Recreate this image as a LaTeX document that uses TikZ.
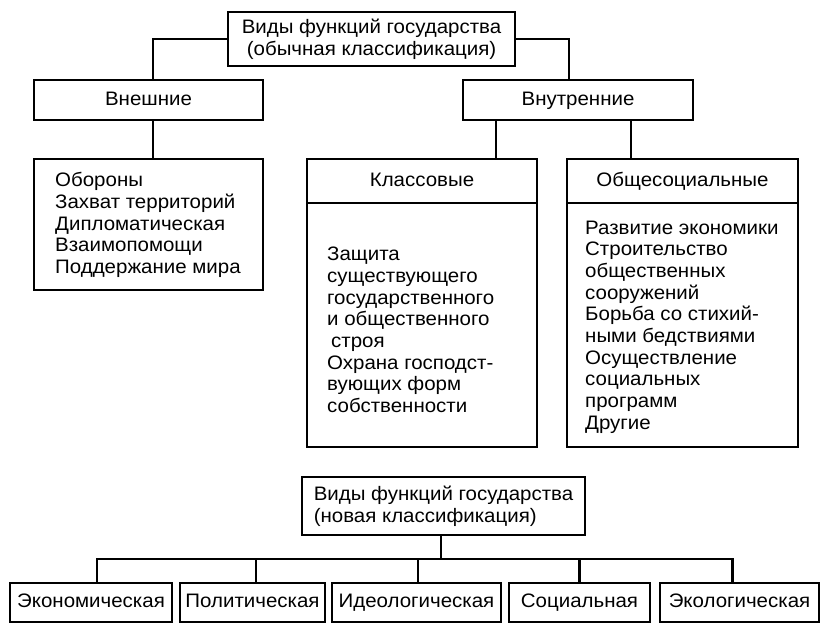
\documentclass[tikz,border=0pt]{standalone}
\usepackage{fontspec}
\setmainfont[FakeStretch=1.05]{Liberation Sans}
\usetikzlibrary{calc}
\def\boxfont{\fontsize{19.5}{21.7}\selectfont}
\tikzset{
	box/.style={draw, line width=2.2pt, inner sep=0pt, font=\boxfont},
	lbl/.style={box, text height=14pt, text depth=4pt},
	txt/.style={anchor=west, align=left, inner sep=0pt, font=\boxfont},
	conn/.style={line width=2.2pt},
}

\begin{document}
\begin{tikzpicture}[x=1pt, y=-1pt]
			\useasboundingbox (0,0) rectangle (830,638);
			%%%%% OLD CLASSIFICATION %%%%%
			\node[box, minimum width=287, minimum height=54, align=center] (oldtop) at (371.5,39) {Виды функций государства\\(обычная классификация)};
			
			\node[lbl, minimum width=229, minimum height=40] (ext) at (148.5,100) {Внешние};
			\node[lbl, minimum width=230, minimum height=40] (int) at (578,100) {Внутренние};
			
			\node[box, minimum width=229, minimum height=131] (extlist) at (148.5,224.5) {};
			\node[txt] (extitems) at (55,225) {Обороны\\Захват территорий\\Дипломатическая\\Взаимопомощи\\Поддержание мира};
			
			\node[lbl, minimum width=230, minimum height=44] (clshead) at (422,181) {Классовые};
			\node[box, minimum width=230, minimum height=244] (clsbody) at (422,325) {};
			\node[txt] (clsitems) at (327,330) {Защита\\существующего\\государственного\\и общественного\\\hspace{4pt}строя\\Охрана господст-\\вующих форм\\собственности};
			
			\node[lbl, minimum width=231, minimum height=44] (sochead) at (682.5,181) {Общесоциальные};
			\node[box, minimum width=231, minimum height=244] (socbody) at (682.5,325) {};
			\node[txt] (socitems) at (585,327) {Развитие экономики\\Строительство\\общественных\\сооружений\\Борьба со стихий-\\ными бедствиями\\Осуществление\\социальных\\программ\\Другие};
			
			\draw[conn] (oldtop.west) -| ([xshift=4.5]ext.north);
			\draw[conn] (oldtop.east) -| ([xshift=-9]int.north);
			\draw[conn] ([xshift=4.5]ext.south) -- ([xshift=4.5]ext.south |- extlist.north);
			\draw[conn] ([xshift=-82]int.south) -- ([xshift=-82]int.south |- clshead.north);
			\draw[conn] ([xshift=53]int.south) -- ([xshift=53]int.south |- sochead.north);
			
			%%%%% NEW CLASSIFICATION %%%%%
			\node[box, minimum width=283, minimum height=58, align=left] (newtop) at (443.5,506) {Виды функций государства\\(новая классификация)};
			\coordinate (bus) at (0,559);
			
			\node[lbl, minimum width=162, minimum height=39] (econ) at (91,602.5) {Экономическая};
			\node[lbl, minimum width=145, minimum height=39] (pol) at (252.5,602.5) {Политическая};
			\node[lbl, minimum width=169, minimum height=39] (ideo) at (416.5,602.5) {Идеологическая};
			\node[lbl, minimum width=141, minimum height=39] (soc) at (579.5,602.5) {Социальная};
			\node[lbl, minimum width=159, minimum height=39] (ecol) at (739.5,602.5) {Экологическая};
			
			\draw[conn] ([xshift=-2.5]newtop.south) -- ([xshift=-2.5]newtop.south |- bus);
			\draw[conn] ([xshift=6]econ.north) |- ([xshift=-7]ecol.north |- bus) -- ([xshift=-7]ecol.north);
			\draw[conn] ([xshift=3.5]pol.north) -- ([xshift=3.5]pol.north |- bus);
			\draw[conn] ([xshift=1.5]ideo.north) -- ([xshift=1.5]ideo.north |- bus);
			\draw[conn] (soc.north) -- (soc.north |- bus);
			%%%%% END %%%%%
\end{tikzpicture}
\end{document}
